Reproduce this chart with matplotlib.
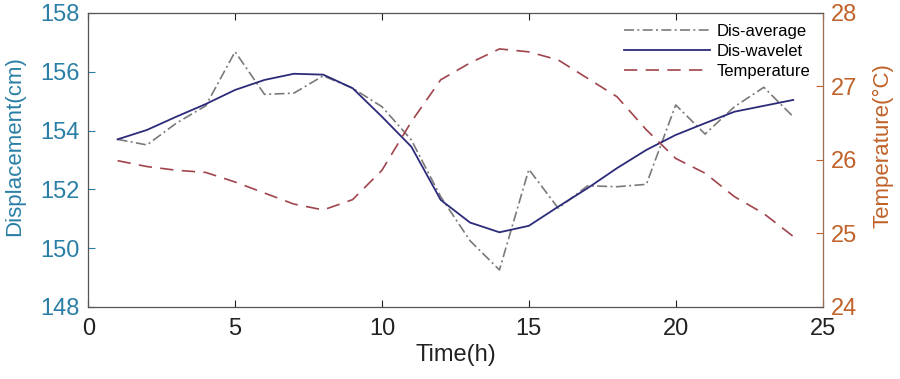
import matplotlib.pyplot as plt

plt.rcParams['font.family'] = ['Liberation Sans', 'DejaVu Sans']

HOURS = list(range(1, 25))
DIS_AVERAGE = [153.70, 153.51, 154.25, 154.84, 156.68, 155.23, 155.27, 155.86,
               155.44, 154.81, 153.68, 151.75, 150.25, 149.26, 152.68, 151.36,
               152.12, 152.09, 152.17, 154.87, 153.88, 154.81, 155.47, 154.47]
DIS_WAVELET = [153.70, 154.02, 154.47, 154.90, 155.38, 155.72, 155.93, 155.90,
               155.44, 154.47, 153.45, 151.64, 150.87, 150.54, 150.76, 151.41,
               152.04, 152.72, 153.34, 153.85, 154.25, 154.64, 154.84, 155.04]
TEMPERATURE = [25.99, 25.91, 25.86, 25.83, 25.70, 25.55, 25.40, 25.32,
               25.46, 25.86, 26.52, 27.09, 27.32, 27.51, 27.47, 27.36,
               27.11, 26.86, 26.41, 26.02, 25.82, 25.50, 25.27, 24.96]

BLUE = '#2a7fa6'
ORANGE = '#c0622a'

fig = plt.figure(figsize=(9, 3.79), dpi=100)
ax = fig.add_axes([0.098, 0.19, 0.816, 0.776])
ax2 = ax.twinx()

l1, = ax.plot(HOURS, DIS_AVERAGE, color='#7a7a7a', linestyle=(0, (6, 2, 1.2, 2)), linewidth=1.2, label='Dis-average')
l2, = ax.plot(HOURS, DIS_WAVELET, color='#2b2b7a', linestyle='-', linewidth=1.3, label='Dis-wavelet')
l3, = ax2.plot(HOURS, TEMPERATURE, color='#a0444c', linestyle=(0, (8, 5)), linewidth=1.2, label='Temperature')

ax.set_xlim(0, 25)
ax.set_ylim(148, 158)
ax2.set_ylim(24, 28)
ax.set_xticks([0, 5, 10, 15, 20, 25])
ax.set_yticks([148, 150, 152, 154, 156, 158])
ax2.set_yticks([24, 25, 26, 27, 28])

ax.set_xlabel('Time(h)', fontsize=17, color='#222222', labelpad=3)
ax.set_ylabel('Displacement(cm)', fontsize=16, color=BLUE, labelpad=11, y=0.548)
ax2.set_ylabel('Temperature(°C)', fontsize=16, color=ORANGE, labelpad=11, y=0.55)

ax.tick_params(axis='x', direction='in', labelsize=17, colors='#222222', top=True, length=5, pad=8)
ax.tick_params(axis='y', direction='in', labelsize=17, colors=BLUE, length=5, pad=6)
ax2.tick_params(axis='y', direction='in', labelsize=17, colors=ORANGE, length=5, pad=6)

for s in ['left', 'top', 'bottom']:
    ax2.spines[s].set_color('#555555')
ax2.spines['right'].set_color('#a07050')

leg = ax.legend(handles=[l1, l2, l3], loc='upper right', frameon=False, fontsize=12,
                handlelength=5.2, labelspacing=0.3, borderaxespad=0.1, handletextpad=0.4,
                bbox_to_anchor=(0.995, 0.99))

fig.savefig('out.png', dpi=100)
